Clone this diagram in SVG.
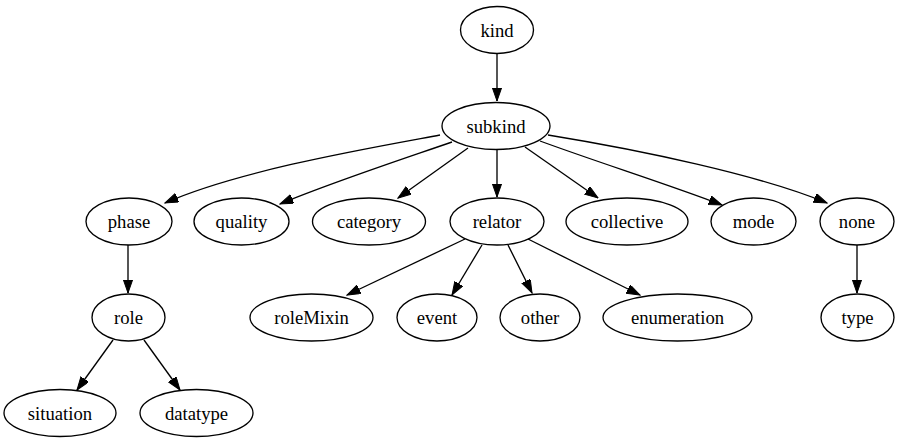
<svg xmlns="http://www.w3.org/2000/svg" width="902" height="443" viewBox="0 0 902 443">
<style>
.n ellipse{fill:none;stroke:#000;stroke-width:1.33}
.n text{font-family:'Liberation Serif',Tinos,'DejaVu Serif',serif;font-size:18.67px;text-anchor:middle;fill:#000}
.e path{fill:none;stroke:#000;stroke-width:1.33;marker-end:url(#ah)}
</style>
<defs>
<marker id="ah" markerUnits="userSpaceOnUse" markerWidth="14" markerHeight="10" refX="13.3" refY="4.67" orient="auto">
<path d="M0,0 L13.3,4.67 L0,9.33 z" fill="#000" stroke="#000" stroke-width="1"/>
</marker>
</defs>
<rect width="902" height="443" fill="#fff"/>
<g id="edges" class="e">
<path d="M497,53 L497,101"/>
<path d="M440,135 C370,148 240,170 165,203"/>
<path d="M452,142 C400,160 330,183 280,204"/>
<path d="M468,148 L398,198"/>
<path d="M497,149 L497,197"/>
<path d="M525,147 L598,198"/>
<path d="M540,141 C600,163 670,185 722,205"/>
<path d="M548,135 C640,150 760,175 827,203"/>
<path d="M128,245 L128,293"/>
<path d="M857,245 L857,293"/>
<path d="M113,340 L77,390"/>
<path d="M144,340 L180,390"/>
<path d="M465,239 L347,295"/>
<path d="M482,245 L452,295"/>
<path d="M508,245 L532,293"/>
<path d="M528,239 L640,295"/>
</g>
<g id="kind" class="n"><ellipse cx="497" cy="30" rx="36.5" ry="23.5"/><text x="497" y="36.5" font-family="Liberation Serif">kind</text></g>
<g id="subkind" class="n"><ellipse cx="496" cy="126" rx="54" ry="23.5"/><text x="496" y="132.5">subkind</text></g>
<g id="phase" class="n"><ellipse cx="129" cy="221.5" rx="43" ry="23.5"/><text x="129" y="228">phase</text></g>
<g id="quality" class="n"><ellipse cx="241.5" cy="221.5" rx="47.5" ry="23.5"/><text x="241.5" y="228">quality</text></g>
<g id="category" class="n"><ellipse cx="369" cy="221.5" rx="56.5" ry="23.5"/><text x="369" y="228">category</text></g>
<g id="relator" class="n"><ellipse cx="497" cy="221.5" rx="47" ry="23.5"/><text x="497" y="228">relator</text></g>
<g id="collective" class="n"><ellipse cx="627" cy="221.5" rx="61" ry="23.5"/><text x="627" y="228">collective</text></g>
<g id="mode" class="n"><ellipse cx="753.5" cy="221.5" rx="42.5" ry="23.5"/><text x="753.5" y="228">mode</text></g>
<g id="none" class="n"><ellipse cx="857" cy="221.5" rx="37" ry="23.5"/><text x="857" y="228">none</text></g>
<g id="role" class="n"><ellipse cx="128.5" cy="317.5" rx="36.5" ry="23.5"/><text x="128.5" y="324">role</text></g>
<g id="roleMixin" class="n"><ellipse cx="311.5" cy="317.5" rx="61.5" ry="23.5"/><text x="311.5" y="324">roleMixin</text></g>
<g id="event" class="n"><ellipse cx="437" cy="317.5" rx="40" ry="23.5"/><text x="437" y="324">event</text></g>
<g id="other" class="n"><ellipse cx="540" cy="317.5" rx="40" ry="23.5"/><text x="540" y="324">other</text></g>
<g id="enumeration" class="n"><ellipse cx="677.5" cy="317.5" rx="74.5" ry="23.5"/><text x="677.5" y="324">enumeration</text></g>
<g id="type" class="n"><ellipse cx="857.5" cy="317.5" rx="36.5" ry="23.5"/><text x="857.5" y="324">type</text></g>
<g id="situation" class="n"><ellipse cx="60" cy="413" rx="56" ry="23.5"/><text x="60" y="419.5">situation</text></g>
<g id="datatype" class="n"><ellipse cx="196.5" cy="413" rx="56.5" ry="23.5"/><text x="196.5" y="419.5">datatype</text></g>
</svg>
